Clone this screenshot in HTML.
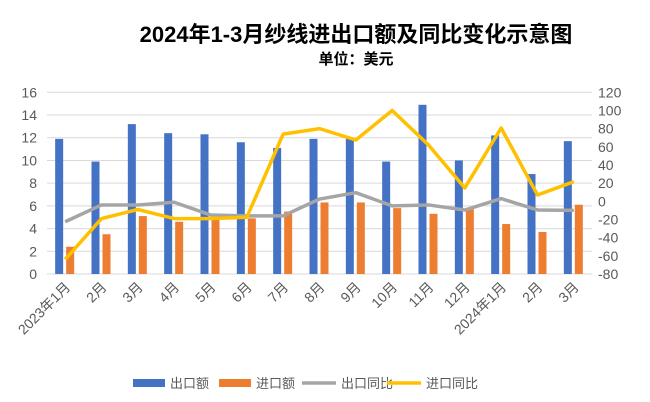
<!DOCTYPE html>
<html><head><meta charset="utf-8"><style>
body{margin:0;background:#fff}
svg{display:block;font-family:"Liberation Sans","Noto Sans CJK SC",sans-serif}
</style></head><body>
<svg width="650" height="402" viewBox="0 0 650 402">
<text x="356" y="42" text-anchor="middle" font-size="22" font-weight="bold" fill="#000">2024年1-3月纱线进出口额及同比变化示意图</text>
<text x="356" y="64" text-anchor="middle" font-size="15" font-weight="bold" fill="#000">单位：美元</text>
<g id="g"></g>
</svg>
<script>
const NS="http://www.w3.org/2000/svg",g=document.getElementById('g');
function el(t,a,txt){const e=document.createElementNS(NS,t);for(const k in a)e.setAttribute(k,a[k]);if(txt!=null)e.textContent=txt;g.appendChild(e);return e;}
const x0=47,x1=592,y0=274,yt=92.3,n=15,cw=(x1-x0)/n;
const yl=v=>y0-(v/16)*(y0-yt), yr=v=>y0-((v+80)/200)*(y0-yt);
for(let i=0;i<=8;i++){const y=yl(i*2);el('line',{x1:x0,x2:x1,y1:y,y2:y,stroke:'#d9d9d9','stroke-width':1});
el('text',{x:37,y:y+5,'text-anchor':'end','font-size':14,fill:'#595959'},i*2);}
for(let i=0;i<=10;i++){const v=-80+i*20;el('text',{x:598,y:yr(v)+5,'font-size':14,fill:'#595959'},v);}
const lab=["2023年1月","2月","3月","4月","5月","6月","7月","8月","9月","10月","11月","12月","2024年1月","2月","3月"];
const B=[11.9,9.9,13.2,12.4,12.3,11.6,11.1,11.9,11.9,9.9,14.9,10.0,12.2,8.8,11.7];
const O=[2.4,3.5,5.1,4.6,4.8,4.9,5.5,6.3,6.3,5.8,5.3,5.7,4.4,3.7,6.1];
const G=[-22.5,-4,-4,-1,-15,-16,-16,2.5,9.5,-5,-4,-9.6,3,-9.5,-10];
const Y=[-64,-19,-9,-19,-19,-17.5,74,80,67.5,100,62,14.7,80.7,7,21.6];
let pg=[],py=[];
for(let i=0;i<n;i++){const c=x0+cw*(i+0.5);
el('rect',{x:c-10,y:yl(B[i]),width:8,height:y0-yl(B[i]),fill:'#4472c4'});
el('rect',{x:c+1,y:yl(O[i]),width:8,height:y0-yl(O[i]),fill:'#ed7d31'});
pg.push(c+','+yr(G[i]));py.push(c+','+yr(Y[i]));
el('text',{x:c+6,y:288,'text-anchor':'end','font-size':14,fill:'#595959',transform:`rotate(-45 ${c+6} 288)`},lab[i]);}
el('polyline',{points:pg.join(' '),fill:'none',stroke:'#a5a5a5','stroke-width':3.5,'stroke-linejoin':'round'});
el('polyline',{points:py.join(' '),fill:'none',stroke:'#ffc000','stroke-width':3.5,'stroke-linejoin':'round'});
el('rect',{x:133,y:379,width:32,height:8,fill:'#4472c4'});el('text',{x:170,y:388,'font-size':13,fill:'#595959'},'出口额');
el('rect',{x:219,y:379,width:32,height:8,fill:'#ed7d31'});el('text',{x:256,y:388,'font-size':13,fill:'#595959'},'进口额');
el('line',{x1:302,x2:336,y1:383,y2:383,stroke:'#a5a5a5','stroke-width':3.5});el('text',{x:341,y:388,'font-size':13,fill:'#595959'},'出口同比');
el('line',{x1:387,x2:421,y1:383,y2:383,stroke:'#ffc000','stroke-width':3.5});el('text',{x:426,y:388,'font-size':13,fill:'#595959'},'进口同比');
</script>
</body></html>
